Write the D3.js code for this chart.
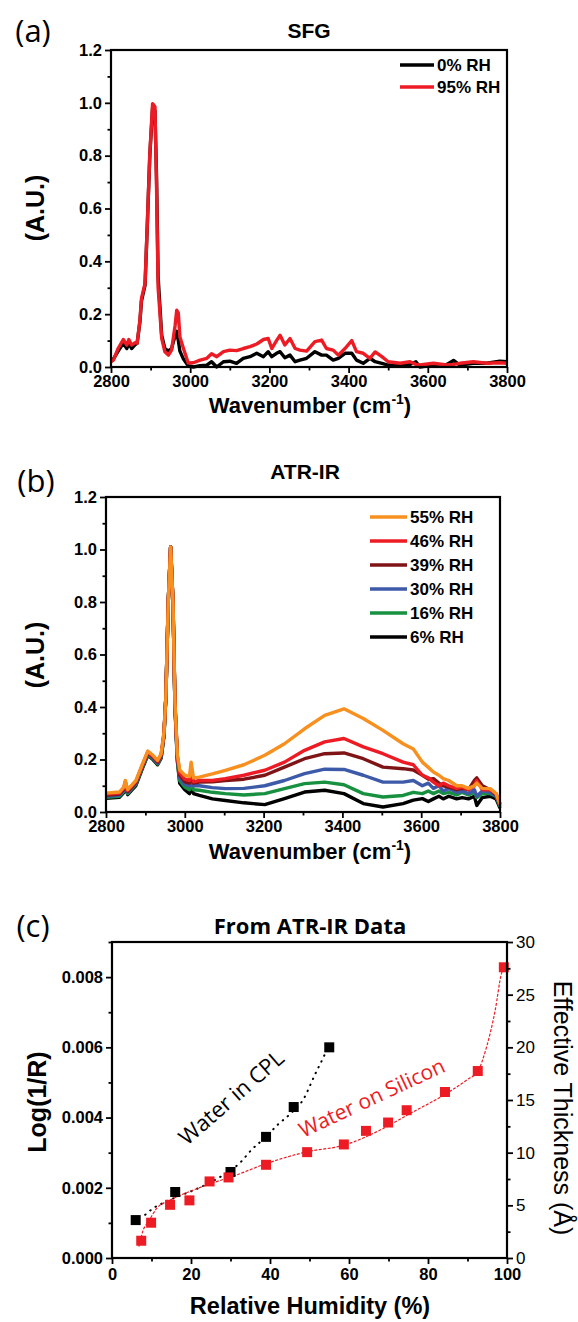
<!DOCTYPE html>
<html>
<head>
<meta charset="utf-8">
<script src="https://cdn.jsdelivr.net/npm/d3@7"></script>
<style>
body { margin: 0; background: #fff; }
</style>
</head>
<body>
<div id="fig"></div>
<script>
// ---- (a) SFG ----
const sfgWn = [2800, 2806, 2818, 2831, 2840, 2845, 2852, 2861, 2866, 2873, 2877, 2886, 2892, 2898, 2905,
  2911, 2915, 2919, 2928, 2936, 2945, 2953, 2962, 2966, 2970, 2974, 2983, 2995, 3008, 3025,
  3042, 3054, 3067, 3084, 3100, 3117, 3134, 3151, 3168, 3185, 3197, 3206, 3218, 3227, 3239,
  3252, 3265, 3277, 3294, 3315, 3332, 3344, 3361, 3374, 3391, 3408, 3420, 3437, 3454, 3467,
  3484, 3500, 3530, 3555, 3570, 3580, 3614, 3648, 3665, 3681, 3715, 3749, 3782, 3800]
const sfg0 = [0.025, 0.03, 0.06, 0.09, 0.07, 0.09, 0.07, 0.085, 0.09, 0.17, 0.25, 0.31, 0.55, 0.80, 0.98,
  0.97, 0.72, 0.34, 0.12, 0.07, 0.06, 0.07, 0.12, 0.135, 0.1, 0.06, 0.03, 0.005, 0.0, 0.005,
  0.007, 0.02, 0.0, 0.02, 0.022, 0.014, 0.033, 0.039, 0.052, 0.039, 0.058, 0.039, 0.052, 0.058, 0.035,
  0.045, 0.02, 0.026, 0.033, 0.058, 0.045, 0.045, 0.026, 0.033, 0.052, 0.052, 0.026, 0.014, 0.033, 0.02,
  0.014, 0.0075, 0.005, 0.01, 0.02, 0.0, 0.0075, 0.01, 0.025, 0.0075, 0.014, 0.014, 0.022, 0.02]
const sfg95 = [0.02, 0.026, 0.07, 0.104, 0.083, 0.104, 0.083, 0.092, 0.09, 0.177, 0.26, 0.316, 0.555, 0.806, 0.997,
  0.985, 0.68, 0.30, 0.108, 0.058, 0.045, 0.064, 0.158, 0.215, 0.204, 0.114, 0.07, 0.015, 0.016, 0.026,
  0.033, 0.05, 0.039, 0.058, 0.064, 0.062, 0.07, 0.077, 0.087, 0.104, 0.108, 0.07, 0.1, 0.12, 0.083,
  0.108, 0.07, 0.064, 0.06, 0.096, 0.102, 0.07, 0.064, 0.045, 0.07, 0.1, 0.058, 0.052, 0.033, 0.057,
  0.039, 0.02, 0.014, 0.02, 0.01, 0.0075, 0.014, 0.0075, 0.01, 0.014, 0.02, 0.014, 0.016, 0.014]
const sfgLabels = ["0% RH", "95% RH"]

// ---- (b) ATR-IR ----
const atrWn = [2800, 2834, 2845, 2849, 2855, 2876, 2893, 2906, 2919, 2931, 2940, 2947, 2952, 2958, 2964,
  2970, 2975, 2981, 2987, 3000, 3012, 3016, 3022, 3037, 3070, 3103, 3150, 3203, 3253, 3304,
  3355, 3404, 3453, 3503, 3554, 3580, 3603, 3618, 3631, 3645, 3656, 3670, 3690, 3704, 3720,
  3735, 3741, 3755, 3775, 3790, 3800]
const atr55 = [0.072, 0.076, 0.095, 0.12, 0.085, 0.12, 0.184, 0.232, 0.216, 0.197, 0.222, 0.30, 0.44, 0.80, 1.01, 0.80, 0.42, 0.22, 0.16,
  0.14, 0.135, 0.19, 0.13, 0.133, 0.145, 0.159, 0.18, 0.216, 0.26, 0.317, 0.368, 0.393, 0.356, 0.311, 0.26,
  0.24, 0.19, 0.17, 0.152, 0.14, 0.127, 0.12, 0.10, 0.10, 0.09, 0.10, 0.11, 0.09, 0.089, 0.07, 0.03]
const atr46 = [0.068, 0.072, 0.09, 0.115, 0.082, 0.117, 0.181, 0.229, 0.213, 0.194, 0.219, 0.30, 0.44, 0.80, 1.01, 0.80, 0.42, 0.215, 0.15,
  0.125, 0.12, 0.17, 0.115, 0.12, 0.12, 0.127, 0.14, 0.159, 0.19, 0.235, 0.267, 0.28, 0.248, 0.222, 0.19,
  0.18, 0.14, 0.13, 0.114, 0.1, 0.11, 0.1, 0.09, 0.095, 0.085, 0.1, 0.12, 0.085, 0.085, 0.07, 0.03]
const atr39 = [0.064, 0.068, 0.086, 0.111, 0.078, 0.113, 0.178, 0.226, 0.21, 0.19, 0.215, 0.29, 0.44, 0.80, 1.01, 0.80, 0.41, 0.21, 0.14,
  0.115, 0.11, 0.15, 0.11, 0.114, 0.115, 0.12, 0.125, 0.14, 0.171, 0.203, 0.222, 0.225, 0.203, 0.171, 0.165,
  0.16, 0.14, 0.125, 0.127, 0.11, 0.1, 0.095, 0.085, 0.09, 0.085, 0.12, 0.13, 0.1, 0.085, 0.065, 0.03]
const atr30 = [0.06, 0.064, 0.082, 0.107, 0.074, 0.109, 0.175, 0.222, 0.206, 0.186, 0.211, 0.29, 0.44, 0.80, 1.01, 0.80, 0.41, 0.205, 0.13,
  0.105, 0.1, 0.13, 0.1, 0.1, 0.093, 0.089, 0.09, 0.1, 0.12, 0.146, 0.163, 0.162, 0.14, 0.114, 0.114,
  0.12, 0.1, 0.11, 0.09, 0.1, 0.08, 0.09, 0.075, 0.08, 0.07, 0.085, 0.06, 0.08, 0.075, 0.06, 0.025]
const atr16 = [0.056, 0.06, 0.078, 0.103, 0.07, 0.105, 0.172, 0.219, 0.203, 0.183, 0.208, 0.29, 0.44, 0.80, 1.01, 0.80, 0.41, 0.2, 0.12,
  0.095, 0.085, 0.11, 0.085, 0.083, 0.075, 0.07, 0.065, 0.07, 0.089, 0.108, 0.114, 0.104, 0.07, 0.057, 0.063,
  0.075, 0.07, 0.08, 0.07, 0.08, 0.07, 0.075, 0.065, 0.075, 0.065, 0.075, 0.055, 0.07, 0.07, 0.06, 0.02]
const atr6 = [0.052, 0.056, 0.074, 0.099, 0.066, 0.101, 0.168, 0.216, 0.2, 0.18, 0.205, 0.29, 0.44, 0.80, 1.01, 0.80, 0.40, 0.195, 0.11,
  0.085, 0.07, 0.09, 0.07, 0.063, 0.05, 0.044, 0.035, 0.028, 0.051, 0.076, 0.083, 0.07, 0.032, 0.019, 0.032,
  0.045, 0.051, 0.04, 0.05, 0.06, 0.05, 0.06, 0.05, 0.055, 0.05, 0.06, 0.025, 0.055, 0.06, 0.05, 0.015]
const atrLabels = ["55% RH", "46% RH", "39% RH", "30% RH", "16% RH", "6% RH"]

// ---- (c) From ATR-IR data ----
const cplRH = [6, 16, 30, 39, 46, 55]
const cplLog = [0.00108, 0.00188, 0.00245, 0.00345, 0.0043, 0.006]
const cplFitRH = [8.4, 10.6, 13, 16, 20, 24, 28, 32.4, 35.4, 39, 42, 45, 48.4, 51.4, 53.5, 54.5]
const cplFitLog = [0.00123, 0.00143, 0.00157, 0.00172, 0.0019, 0.0021, 0.00235, 0.00271, 0.00309,
  0.00345, 0.0038, 0.00409, 0.00451, 0.00523, 0.00571, 0.00595]
const siRH = [7.4, 9.9, 14.7, 19.6, 24.7, 29.5, 39, 49.4, 58.7, 64.3, 69.9, 74.6, 84.3, 92.6, 99.2]
const siThk = [1.64, 3.35, 5.05, 5.47, 7.27, 7.65, 8.85, 10.05, 10.78, 12.07, 12.86, 14.03, 15.76, 17.75, 27.6]
const siFitRH = [6.8, 7.9, 9.2, 11.3, 14.7, 20.6, 25.6, 30.7, 39.2, 49.3, 58.6, 68.7, 75.4, 83.9, 89.8,
  92.7, 94.8, 97, 98.6, 99.2]
const siFitThk = [1.07, 2.65, 3.44, 4.7, 5.5, 6.45, 7.14, 7.77, 8.98, 10.08, 10.7, 12.3, 13.7, 15.45, 16.9,
  17.8, 20.0, 23.5, 27, 27.6]

const svg = d3.select("#fig").append("svg")
  .attr("width", 578)
  .attr("height", 1322)

const arial = '"Liberation Sans", Arial, sans-serif'
const calibri = '"Open Sans", sans-serif'
const bold = "bold"

function axis(fn, scale, tr, majors, minors, fmt, size, weight, pad = 3) {
  const mg = svg.append("g").attr("transform", tr)
    .call(fn(scale).tickValues(minors).tickSize(3.5).tickFormat(""))
  const g = svg.append("g").attr("transform", tr)
    .call(fn(scale).tickValues(majors).tickSize(6).tickPadding(pad).tickFormat(fmt))
  ;[g, mg].forEach(s => {
    s.select(".domain").remove()
    s.selectAll("line").attr("stroke", "#000").attr("stroke-width", 1.8)
  })
  g.selectAll("text")
    .attr("fill", "#000")
    .style("font-family", arial)
    .style("font-size", size + "px")
    .style("font-weight", weight)
  return g
}

function frame(x, y) {
  const [x0, x1] = x.range(), [y0, y1] = y.range()
  svg.append("rect")
    .attr("x", x0).attr("y", y1)
    .attr("width", x1 - x0).attr("height", y0 - y1)
    .attr("fill", "none").attr("stroke", "#000").attr("stroke-width", 2.2)
}

function text(x, y, s, size, opts = {}) {
  const t = svg.append("text")
    .attr("x", x).attr("y", y)
    .attr("text-anchor", opts.anchor || "middle")
    .style("font-family", opts.family || arial)
    .style("font-size", size + "px")
    .style("font-weight", opts.weight || "normal")
    .attr("fill", opts.color || "#000")
    .text(s)
  if (opts.rotate != null) t.attr("transform", `rotate(${opts.rotate},${x},${y})`)
  return t
}

function wavenumberLabel(x, y) {
  const t = text(x, y, "Wavenumber (cm", 22, {weight: bold})
  t.append("tspan").attr("dy", -9).style("font-size", "14px").text("-1")
  t.append("tspan").attr("dy", 9).text(")")
}

// ================= (a) =================
const xa = d3.scaleLinear().domain([2800, 3800]).range([111, 507])
const ya = d3.scaleLinear().domain([0, 1.2]).range([367, 50])

const lineA = d3.line().x(d => xa(d[0])).y(d => ya(d[1]))
const sfgSeries = [
  {name: sfgLabels[0], vals: sfg0, color: "#000000"},
  {name: sfgLabels[1], vals: sfg95, color: "#ED1C24"}
]
sfgSeries.forEach(s => {
  svg.append("path")
    .datum(sfgWn.map((w, i) => [w, s.vals[i]]))
    .attr("d", lineA)
    .attr("fill", "none")
    .attr("stroke", s.color)
    .attr("stroke-width", 3.4)
    .attr("stroke-linejoin", "round")
})

axis(d3.axisBottom, xa, `translate(0,367)`, d3.range(2800, 3801, 200), d3.range(2900, 3800, 200), d3.format("d"), 16.5, bold, 2)
axis(d3.axisLeft, ya, `translate(111,0)`, d3.range(0, 1.21, 0.2), d3.range(0.1, 1.2, 0.2), d3.format(".1f"), 16.5, bold)
frame(xa, ya)

sfgSeries.forEach((s, i) => {
  const yy = 65 + i * 22
  svg.append("line").attr("x1", 400).attr("x2", 434).attr("y1", yy).attr("y2", yy)
    .attr("stroke", s.color).attr("stroke-width", 3.4)
  text(437, yy + 6, s.name, 17, {anchor: "start", weight: bold})
})

text(33, 42, "(a)", 31, {family: calibri})
text(309, 38, "SFG", 21, {weight: bold})
text(44, 208, "(A.U.)", 25, {weight: bold, rotate: -90})
wavenumberLabel(310, 413)

// ================= (b) =================
const xb = d3.scaleLinear().domain([2800, 3800]).range([106, 500])
const yb = d3.scaleLinear().domain([0, 1.2]).range([812, 497])

const atrSeries = [
  {name: atrLabels[0], vals: atr55, color: "#F7901E"},
  {name: atrLabels[1], vals: atr46, color: "#ED1C24"},
  {name: atrLabels[2], vals: atr39, color: "#7F1416"},
  {name: atrLabels[3], vals: atr30, color: "#3C5AA8"},
  {name: atrLabels[4], vals: atr16, color: "#17903F"},
  {name: atrLabels[5], vals: atr6, color: "#000000"}
]
const lineB = d3.line().x(d => xb(d[0])).y(d => yb(d[1]))
atrSeries.slice().reverse().forEach(s => {
  svg.append("path")
    .datum(atrWn.map((w, i) => [w, s.vals[i]]))
    .attr("d", lineB)
    .attr("fill", "none")
    .attr("stroke", s.color)
    .attr("stroke-width", 3.4)
    .attr("stroke-linejoin", "round")
})

axis(d3.axisBottom, xb, `translate(0,812)`, d3.range(2800, 3801, 200), d3.range(2900, 3800, 200), d3.format("d"), 16.5, bold, 2)
axis(d3.axisLeft, yb, `translate(106,0)`, d3.range(0, 1.21, 0.2), d3.range(0.1, 1.2, 0.2), d3.format(".1f"), 16.5, bold)
frame(xb, yb)

atrSeries.forEach((s, i) => {
  const yy = 517 + i * 24
  svg.append("line").attr("x1", 370).attr("x2", 407).attr("y1", yy).attr("y2", yy)
    .attr("stroke", s.color).attr("stroke-width", 3.4)
  text(410, yy + 6, s.name, 17, {anchor: "start", weight: bold})
})

text(36, 492, "(b)", 31, {family: calibri})
text(305, 479, "ATR-IR", 21, {weight: bold})
text(44, 655, "(A.U.)", 25, {weight: bold, rotate: -90})
wavenumberLabel(310, 859)

// ================= (c) =================
const xc = d3.scaleLinear().domain([0, 100]).range([112, 507])
const ycL = d3.scaleLinear().domain([0, 0.009]).range([1258, 942])
const ycR = d3.scaleLinear().domain([0, 30]).range([1258, 942])

// fitted curves
svg.append("path")
  .datum(cplFitRH.map((r, i) => [r, cplFitLog[i]]))
  .attr("d", d3.line().curve(d3.curveMonotoneX).x(d => xc(d[0])).y(d => ycL(d[1])))
  .attr("fill", "none").attr("stroke", "#000").attr("stroke-width", 2)
  .attr("stroke-linecap", "round").attr("stroke-dasharray", "0.5,6")

svg.append("path")
  .datum(siFitRH.map((r, i) => [r, siFitThk[i]]))
  .attr("d", d3.line().curve(d3.curveMonotoneX).x(d => xc(d[0])).y(d => ycR(d[1])))
  .attr("fill", "none").attr("stroke", "#ED1C24").attr("stroke-width", 1.2)
  .attr("stroke-dasharray", "3,1.5")

const sq = 10
svg.selectAll("rect.cpl")
  .data(cplRH.map((r, i) => [r, cplLog[i]]))
  .join("rect")
  .attr("x", d => xc(d[0]) - sq / 2)
  .attr("y", d => ycL(d[1]) - sq / 2)
  .attr("width", sq).attr("height", sq)
  .attr("fill", "#000")

svg.selectAll("rect.si")
  .data(siRH.map((r, i) => [r, siThk[i]]))
  .join("rect")
  .attr("x", d => xc(d[0]) - sq / 2)
  .attr("y", d => ycR(d[1]) - sq / 2)
  .attr("width", sq).attr("height", sq)
  .attr("fill", "#ED1C24")

axis(d3.axisBottom, xc, `translate(0,1258)`, d3.range(0, 101, 20), d3.range(10, 100, 20), d3.format("d"), 16.5, bold, 4)
axis(d3.axisLeft, ycL, `translate(112,0)`, d3.range(0, 0.0081, 0.002), d3.range(0.001, 0.0091, 0.002), d3.format(".3f"), 16.5, bold)
axis(d3.axisRight, ycR, `translate(507,0)`, d3.range(0, 31, 5), d3.range(2.5, 30, 5), d3.format("d"), 17, "normal")
frame(xc, ycL)

text(xc(19), ycL(0.00318), "Water in CPL", 22, {anchor: "start", family: calibri, rotate: -41})
text(xc(48.4), ycR(11.4), "Water on Silicon", 21, {anchor: "start", family: calibri, color: "#ED1C24", rotate: -25})

text(33, 937, "(c)", 31, {family: calibri})
text(310, 934, "From ATR-IR Data", 22, {weight: bold, family: calibri})
text(46, 1102, "Log(1/R)", 25, {weight: bold, rotate: -90})
text(554, 1108, "Effective Thickness (Å)", 25, {rotate: 90})
text(310, 1314, "Relative Humidity (%)", 23.5, {weight: bold})
</script>
</body>
</html>
